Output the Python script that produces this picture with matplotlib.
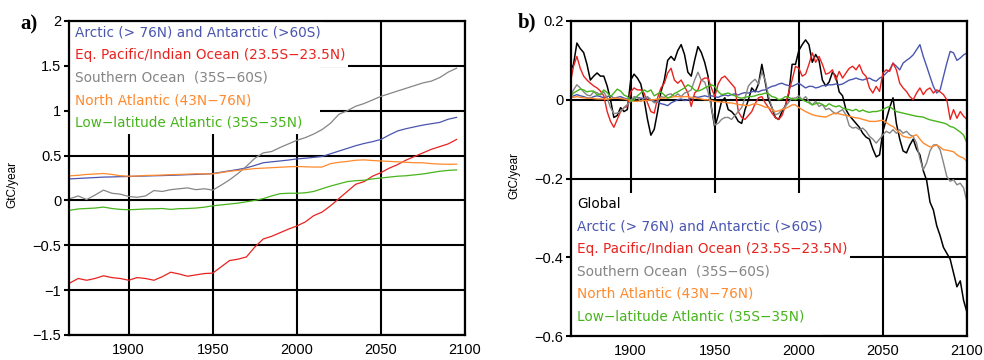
import numpy as np
import matplotlib
matplotlib.use("Agg")
import matplotlib.pyplot as plt
from matplotlib.patches import Rectangle

plt.rcParams["font.family"] = ["Liberation Sans", "DejaVu Sans"]

# colours of the regions
c_blue = "#4a56ae"
c_red = "#e8231f"
c_gray = "#858585"
c_orange = "#ff8a2e"
c_green = "#48b41c"
c_black = "#000000"

# ---- panel a: cumulative-ish regional uptake, 5-yearly readings ----
years_a = list(range(1865, 2096, 5))
arctic_a = [0.24, 0.245, 0.25, 0.255, 0.26, 0.262, 0.265, 0.267, 0.27, 0.272,
            0.275, 0.277, 0.28, 0.283, 0.287, 0.29, 0.293, 0.30, 0.315, 0.33,
            0.345, 0.363, 0.39, 0.42, 0.43, 0.44, 0.45, 0.463, 0.47, 0.48,
            0.49, 0.52, 0.55, 0.58, 0.61, 0.635, 0.655, 0.68, 0.73, 0.775,
            0.80, 0.82, 0.84, 0.855, 0.87, 0.905, 0.926]
eqpac_a = [-0.92, -0.87, -0.89, -0.87, -0.84, -0.86, -0.87, -0.89, -0.86, -0.87,
           -0.89, -0.85, -0.80, -0.82, -0.845, -0.83, -0.815, -0.81, -0.74, -0.67,
           -0.655, -0.63, -0.52, -0.43, -0.40, -0.36, -0.32, -0.285, -0.24, -0.17,
           -0.13, -0.06, 0.02, 0.10, 0.18, 0.21, 0.27, 0.31, 0.36, 0.40,
           0.45, 0.49, 0.53, 0.57, 0.60, 0.63, 0.68]
south_a = [0.02, 0.05, 0.01, 0.06, 0.115, 0.08, 0.07, 0.044, 0.035, 0.05,
           0.11, 0.10, 0.12, 0.13, 0.14, 0.12, 0.13, 0.115, 0.17, 0.23,
           0.30, 0.38, 0.47, 0.53, 0.545, 0.59, 0.63, 0.67, 0.70, 0.74,
           0.79, 0.86, 0.96, 1.0, 1.05, 1.08, 1.12, 1.16, 1.19, 1.22,
           1.25, 1.28, 1.31, 1.33, 1.37, 1.43, 1.474]
natl_a = [0.274, 0.28, 0.29, 0.295, 0.30, 0.29, 0.275, 0.27, 0.272, 0.278,
          0.28, 0.283, 0.287, 0.29, 0.293, 0.297, 0.295, 0.296, 0.31, 0.325,
          0.335, 0.345, 0.355, 0.36, 0.365, 0.37, 0.375, 0.378, 0.375, 0.372,
          0.372, 0.41, 0.425, 0.435, 0.448, 0.452, 0.445, 0.44, 0.435, 0.43,
          0.425, 0.42, 0.42, 0.41, 0.405, 0.403, 0.404]
lowatl_a = [-0.11, -0.095, -0.09, -0.085, -0.074, -0.09, -0.10, -0.104, -0.10, -0.095,
            -0.093, -0.09, -0.10, -0.092, -0.09, -0.085, -0.075, -0.06, -0.05, -0.04,
            -0.03, -0.015, 0.0, 0.02, 0.05, 0.075, 0.08, 0.08, 0.085, 0.10,
            0.13, 0.16, 0.185, 0.21, 0.22, 0.225, 0.24, 0.25, 0.26, 0.27,
            0.275, 0.285, 0.295, 0.31, 0.325, 0.335, 0.34]

# ---- panel b: anomalies, 2-yearly readings ----
years_b = list(range(1864, 2101, 2))
global_b = [0.07, 0.09, 0.144, 0.13, 0.12, 0.09, 0.05, 0.06, 0.068, 0.06,
            0.06, 0.035, 0.0, -0.045, -0.04, -0.02, -0.03, -0.025, 0.05, 0.065,
            0.055, 0.04, 0.0, -0.05, -0.09, -0.075, -0.03, 0.02, 0.05, 0.10,
            0.11, 0.10, 0.125, 0.14, 0.115, 0.07, 0.06, 0.10, 0.135, 0.12,
            0.095, 0.06, -0.02, -0.07, -0.04, -0.005, 0.005, -0.025, -0.03, -0.04,
            -0.055, -0.06, -0.025, 0.0, 0.03, 0.02, 0.04, 0.09, 0.045, 0.0,
            -0.02, -0.045, -0.05, -0.03, -0.015, 0.015, 0.09, 0.09, 0.125, 0.14,
            0.152, 0.14, 0.095, 0.115, 0.10, 0.05, 0.035, 0.045, 0.07, 0.06,
            0.02, 0.01, -0.025, -0.04, -0.05, -0.06, -0.07, -0.085, -0.095, -0.10,
            -0.125, -0.145, -0.14, -0.08, -0.05, -0.02, 0.005, -0.06, -0.10, -0.13,
            -0.135, -0.115, -0.10, -0.125, -0.14, -0.18, -0.205, -0.26, -0.28, -0.32,
            -0.345, -0.375, -0.39, -0.405, -0.44, -0.475, -0.46, -0.51, -0.54]
arctic_b = [0.005, 0.01, 0.013, 0.01, 0.008, 0.005, 0.004, 0.008, 0.01, 0.008,
            0.005, 0.008, 0.01, 0.004, 0.006, 0.008, 0.004, 0.002, 0.0, 0.004,
            0.006, 0.004, 0.003, 0.005, 0.0, -0.004, -0.006, -0.01, -0.012, -0.015,
            -0.008, -0.004, 0.0, 0.002, -0.002, 0.0, 0.004, 0.008, 0.006, 0.008,
            0.01, 0.008, 0.01, 0.008, 0.006, 0.01, 0.012, 0.01, 0.013, 0.015,
            0.012, 0.016, 0.018, 0.017, 0.02, 0.022, 0.02, 0.024, 0.025, 0.03,
            0.034, 0.036, 0.04, 0.042, 0.038, 0.036, 0.034, 0.038, 0.042, 0.036,
            0.03, 0.034, 0.034, 0.03, 0.032, 0.036, 0.036, 0.038, 0.038, 0.04,
            0.038, 0.04, 0.045, 0.05, 0.052, 0.055, 0.052, 0.05, 0.053, 0.055,
            0.05, 0.047, 0.055, 0.059, 0.068, 0.076, 0.093, 0.085, 0.076, 0.093,
            0.10, 0.106, 0.114, 0.127, 0.14, 0.11, 0.085, 0.059, 0.034, 0.017,
            0.025, 0.059, 0.093, 0.123, 0.119, 0.10, 0.106, 0.114, 0.119]
eqpac_b = [0.04, 0.085, 0.11, 0.08, 0.06, 0.05, 0.042, 0.035, 0.03, 0.022,
           0.01, -0.03, -0.055, -0.07, -0.05, -0.03, -0.02, -0.017, 0.02, 0.03,
           0.025, 0.025, 0.017, -0.008, -0.03, -0.034, 0.005, 0.03, 0.042, 0.068,
           0.08, 0.05, 0.042, 0.05, 0.034, 0.017, -0.017, 0.017, 0.025, 0.05,
           0.055, 0.055, 0.03, 0.008, 0.04, 0.055, 0.06, 0.05, 0.04, 0.03,
           -0.03, -0.045, -0.05, -0.04, -0.03, -0.01, 0.005, 0.008, -0.008, -0.02,
           -0.034, -0.045, -0.05, -0.04, -0.015, 0.02, 0.05, 0.085, 0.08, 0.06,
           0.065, 0.09, 0.119, 0.095, 0.11, 0.09, 0.065, 0.068, 0.076, 0.05,
           0.072, 0.055, 0.068, 0.08, 0.085, 0.076, 0.089, 0.068, 0.059, 0.03,
           0.017, 0.034, 0.021, 0.068, 0.076, 0.072, 0.093, 0.076, 0.042, 0.03,
           0.021, 0.008, 0.0, 0.017, 0.03, 0.013, 0.025, 0.03, 0.017, 0.025,
           0.02, 0.013, 0.0, -0.05, -0.025, -0.047, -0.03, -0.042, -0.05]
south_b = [0.008, 0.025, 0.038, 0.03, 0.02, 0.012, 0.01, 0.02, 0.018, 0.012,
           0.02, 0.005, -0.02, -0.035, -0.034, -0.03, -0.02, -0.012, -0.004, 0.008,
           0.006, -0.004, 0.004, 0.008, 0.0, -0.008, -0.004, 0.008, 0.006, 0.013,
           0.015, 0.008, 0.015, 0.008, 0.017, 0.02, 0.025, 0.05, 0.07, 0.05,
           0.045, 0.02, -0.02, -0.064, -0.06, -0.05, -0.045, -0.045, -0.05, -0.04,
           -0.03, -0.02, 0.005, 0.035, 0.045, 0.052, 0.04, 0.07, 0.05, 0.01,
           -0.02, -0.038, -0.035, -0.025, -0.017, -0.006, 0.004, 0.004, 0.01, 0.0,
           0.008, -0.004, -0.013, -0.004, -0.017, -0.012, -0.025, -0.022, -0.03, -0.036,
           -0.03, -0.025, -0.038, -0.066, -0.072, -0.07, -0.076, -0.072, -0.08, -0.093,
           -0.10, -0.11, -0.10, -0.089, -0.08, -0.085, -0.076, -0.085, -0.076, -0.085,
           -0.08, -0.089, -0.093, -0.11, -0.15, -0.178, -0.16, -0.13, -0.115, -0.114,
           -0.127, -0.16, -0.195, -0.207, -0.203, -0.216, -0.212, -0.224, -0.26]
natl_b = [0.008, 0.006, 0.008, 0.006, 0.005, 0.004, 0.004, 0.003, 0.002, 0.002,
          0.002, 0.001, 0.003, 0.004, 0.004, 0.003, 0.002, 0.0, -0.002, -0.004,
          -0.004, -0.003, -0.002, -0.002, 0.0, 0.0, 0.002, 0.004, 0.004, 0.005,
          0.006, 0.008, 0.008, 0.007, 0.008, 0.008, 0.006, 0.005, 0.003, 0.002,
          0.0, 0.0, -0.002, -0.004, -0.005, -0.006, -0.006, -0.008, -0.008, -0.01,
          -0.012, -0.013, -0.014, -0.015, -0.012, -0.01, -0.012, -0.015, -0.019, -0.02,
          -0.025, -0.03, -0.028, -0.025, -0.022, -0.018, -0.013, -0.013, -0.02, -0.025,
          -0.03, -0.034, -0.038, -0.04, -0.042, -0.043, -0.044, -0.04, -0.036, -0.034,
          -0.036, -0.038, -0.04, -0.042, -0.044, -0.046, -0.047, -0.05, -0.052, -0.055,
          -0.055, -0.055, -0.053, -0.052, -0.058, -0.064, -0.068, -0.076, -0.085, -0.093,
          -0.095, -0.097, -0.092, -0.089, -0.10, -0.11, -0.115, -0.12, -0.118, -0.115,
          -0.12, -0.127, -0.128, -0.13, -0.132, -0.14, -0.145, -0.148, -0.157]
lowatl_b = [0.008, 0.017, 0.022, 0.027, 0.025, 0.02, 0.022, 0.022, 0.012, 0.014,
            0.025, 0.018, 0.008, 0.017, 0.027, 0.022, 0.012, 0.008, -0.004, 0.0,
            0.01, 0.017, 0.025, 0.02, 0.025, 0.01, 0.015, 0.02, 0.012, 0.004,
            0.008, 0.016, 0.02, 0.025, 0.03, 0.038, 0.033, 0.025, 0.022, 0.025,
            0.03, 0.034, 0.038, 0.034, 0.021, 0.013, 0.015, 0.017, 0.013, 0.01,
            0.006, 0.004, 0.006, 0.008, 0.008, 0.01, 0.013, 0.014, 0.017, 0.015,
            0.008, 0.006, 0.0, 0.002, 0.008, 0.006, 0.002, 0.0, 0.004, 0.0,
            -0.004, -0.008, -0.013, -0.01, -0.008, -0.012, -0.017, -0.01, -0.015, -0.018,
            -0.015, -0.021, -0.024, -0.025, -0.028, -0.024, -0.03, -0.026, -0.03, -0.032,
            -0.03, -0.03, -0.028, -0.025, -0.02, -0.017, -0.024, -0.03, -0.032, -0.034,
            -0.036, -0.038, -0.04, -0.042, -0.043, -0.044, -0.048, -0.051, -0.053, -0.055,
            -0.057, -0.059, -0.062, -0.068, -0.07, -0.076, -0.082, -0.09, -0.11]

labels = ["Global",
          "Arctic (> 76N) and Antarctic (>60S)",
          "Eq. Pacific/Indian Ocean (23.5S\u221223.5N)",
          "Southern Ocean  (35S\u221260S)",
          "North Atlantic (43N\u221276N)",
          "Low\u2212latitude Atlantic (35S\u221235N)"]
label_colors = [c_black, c_blue, c_red, c_gray, c_orange, c_green]

yt_a = [-1.5, -1, -0.5, 0, 0.5, 1, 1.5, 2]
yt_a_lab = ["\u22121.5", "\u22121", "\u22120.5", "0", "0.5", "1", "1.5", "2"]
yt_b = [-0.6, -0.4, -0.2, 0, 0.2]
yt_b_lab = ["\u22120.6", "\u22120.4", "\u22120.2", "0", "0.2"]
xt = [1900, 1950, 2000, 2050, 2100]

fig = plt.figure(figsize=(9.84, 3.6), dpi=100)
ax_a = fig.add_axes([69 / 984, 25 / 360, 396 / 984, 314 / 360])
ax_b = fig.add_axes([571 / 984, 24 / 360, 396 / 984, 315 / 360])


def style(ax, yt, ylab, ylim):
    ax.set_xlim(1864.5, 2100)
    ax.set_ylim(*ylim)
    ax.set_xticks(xt)
    ax.set_xticklabels([str(x) for x in xt])
    ax.set_yticks(yt)
    ax.set_yticklabels(ylab)
    ax.grid(True, color="black", linewidth=1.5)
    ax.set_axisbelow(False)
    ax.tick_params(axis="x", length=0, pad=6, labelsize=10.5)
    ax.tick_params(axis="y", length=3.5, width=1.5, direction="out", pad=2,
                   labelsize=10.5)
    for sp in ax.spines.values():
        sp.set_linewidth(1.6)
        sp.set_zorder(5)


def key(ax, names, colors, y_top, step, to_bottom=False, min_w=0.634):
    # coloured labels, each on a white strip that hides the grid
    texts = []
    for i, (txt, col) in enumerate(zip(names, colors)):
        t = ax.text(0.015, y_top - i * step, txt, transform=ax.transAxes,
                    color=col, fontsize=9.8, family="DejaVu Sans",
                    va="center", ha="left", zorder=4)
        texts.append(t)
    fig.canvas.draw()
    r = fig.canvas.get_renderer()
    inv = ax.transAxes.inverted()
    for i, t in enumerate(texts):
        bb = t.get_window_extent(r)
        x1 = max(inv.transform((bb.x1 + 3, 0))[0], min_w)
        yc = y_top - i * step
        y0 = yc - step / 2
        if to_bottom and i == len(texts) - 1:
            y0 = 0
        ax.add_patch(Rectangle((0, y0), x1, yc + step / 2 - y0,
                               transform=ax.transAxes, facecolor="white",
                               edgecolor="none", zorder=3.5))


# panel a
ax_a.plot(years_a, arctic_a, color=c_blue, lw=0.9, zorder=3.7)
ax_a.plot(years_a, eqpac_a, color=c_red, lw=0.9, zorder=3.7)
ax_a.plot(years_a, south_a, color=c_gray, lw=0.9, zorder=3.7)
ax_a.plot(years_a, natl_a, color=c_orange, lw=0.9, zorder=3.7)
ax_a.plot(years_a, lowatl_a, color=c_green, lw=0.9, zorder=3.7)
style(ax_a, yt_a, yt_a_lab, (-1.5, 2))

# panel b
ax_b.plot(years_b, global_b, color=c_black, lw=1.1, zorder=3.7)
ax_b.plot(years_b, arctic_b, color=c_blue, lw=1.0, zorder=3.7)
ax_b.plot(years_b, eqpac_b, color=c_red, lw=1.0, zorder=3.7)
ax_b.plot(years_b, south_b, color=c_gray, lw=1.0, zorder=3.7)
ax_b.plot(years_b, natl_b, color=c_orange, lw=1.0, zorder=3.7)
ax_b.plot(years_b, lowatl_b, color=c_green, lw=1.0, zorder=3.7)
style(ax_b, yt_b, yt_b_lab, (-0.6, 0.2))

key(ax_a, labels[1:], label_colors[1:], 0.962, 0.0713)
key(ax_b, labels, label_colors, 0.419, 0.0714, to_bottom=True)

fig.text(12 / 984, 1 - 185 / 360, "GtC/year", rotation=90, fontsize=8.5,
         ha="center", va="center")
fig.text(514 / 984, 1 - 175 / 360, "GtC/year", rotation=90, fontsize=8.5,
         ha="center", va="center")

fig.text(20 / 984, 1 - 29 / 360, "a)", fontsize=15, fontweight="bold",
         family="Liberation Serif", ha="left", va="baseline")
fig.text(518 / 984, 1 - 27 / 360, "b)", fontsize=15, fontweight="bold",
         family="Liberation Serif", ha="left", va="baseline")

fig.savefig("out.png", dpi=100)
